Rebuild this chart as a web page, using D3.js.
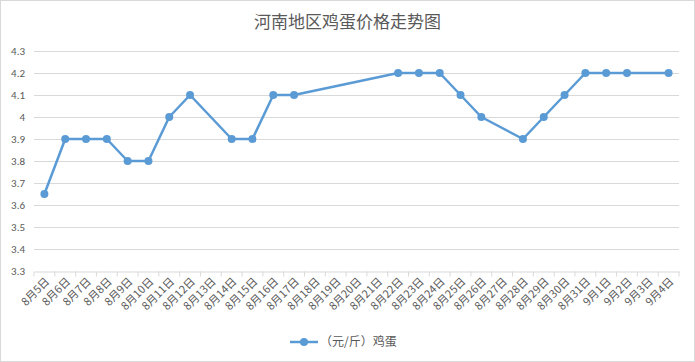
<!DOCTYPE html>
<html>
<head>
<meta charset="utf-8">
<script src="https://cdn.jsdelivr.net/npm/d3@7"></script>
<style>
  body { margin: 0; background: #fff; }
  text { font-family: "Noto Sans CJK SC", "Microsoft YaHei", sans-serif; fill: #595959; }
</style>
</head>
<body>
<script>
// dates on the x axis, one per band
const dates = ['8月5日', '8月6日', '8月7日', '8月8日', '8月9日', '8月10日', '8月11日', '8月12日',
  '8月13日', '8月14日', '8月15日', '8月16日', '8月17日', '8月18日', '8月19日', '8月20日',
  '8月21日', '8月22日', '8月23日', '8月24日', '8月25日', '8月26日', '8月27日', '8月28日',
  '8月29日', '8月30日', '8月31日', '9月1日', '9月2日', '9月3日', '9月4日']
// price per jin, null where there is no reading
const prices = [3.65, 3.9, 3.9, 3.9, 3.8, 3.8, 4.0, 4.1,
  null, 3.9, 3.9, 4.1, 4.1, null, null, null,
  null, 4.2, 4.2, 4.2, 4.1, 4.0, null, 3.9,
  4.0, 4.1, 4.2, 4.2, 4.2, null, 4.2]
const yTicks = [3.3, 3.4, 3.5, 3.6, 3.7, 3.8, 3.9, 4, 4.1, 4.2, 4.3]
const seriesName = '（元/斤）鸡蛋'
const chartTitle = '河南地区鸡蛋价格走势图'

const fullWidth = 695
const fullHeight = 362
const margin = {top: 51, right: 16, bottom: 91, left: 34}
const width = fullWidth - margin.left - margin.right
const height = fullHeight - margin.top - margin.bottom
const color = '#5b9bd5'

const svg = d3.select('body').append('svg')
  .attr('width', fullWidth)
  .attr('height', fullHeight)

// outer frame
svg.append('rect')
  .attr('x', 0.5).attr('y', 0.5)
  .attr('width', fullWidth - 1).attr('height', fullHeight - 1)
  .attr('fill', '#fff').attr('stroke', '#d9d9d9')

svg.append('text')
  .attr('x', fullWidth / 2).attr('y', 28)
  .attr('text-anchor', 'middle')
  .style('font-size', '17px')
  .text(chartTitle)

const g = svg.append('g')
  .attr('transform', 'translate(' + margin.left + ',' + margin.top + ')')

const x = d3.scaleBand().domain(dates).range([0, width])
const y = d3.scaleLinear().domain([3.3, 4.3]).range([height, 0])

// gridlines
g.selectAll('line.grid')
  .data(yTicks.slice(1))
  .enter().append('line')
  .attr('class', 'grid')
  .attr('x1', 0).attr('x2', width)
  .attr('y1', d => Math.round(y(d)) + 0.5).attr('y2', d => Math.round(y(d)) + 0.5)
  .attr('stroke', '#d9d9d9')

// y axis labels
const yAxis = g.append('g')
  .call(d3.axisLeft(y).tickValues(yTicks).tickSize(0).tickPadding(9).tickFormat(d3.format('')))
yAxis.select('.domain').remove()
yAxis.selectAll('text').style('font-size', '11px').style('font-family', 'Calibri, "Liberation Sans", sans-serif')

// x axis
const xAxis = g.append('g')
  .attr('transform', 'translate(0,' + (Math.round(height) + 0.5) + ')')
  .call(d3.axisBottom(x).tickSize(5).tickSizeOuter(0).tickPadding(4))
xAxis.select('.domain').attr('stroke', '#d9d9d9')
xAxis.selectAll('.tick line').attr('stroke', '#d9d9d9')
  .attr('transform', 'translate(' + (-x.bandwidth() / 2) + ',0)')
// closing tick at the right end
xAxis.append('line')
  .attr('x1', width).attr('x2', width).attr('y1', 0).attr('y2', 5)
  .attr('stroke', '#d9d9d9')
xAxis.selectAll('.tick text')
  .style('font-size', '11px')
  .attr('text-anchor', 'end')
  .attr('dy', '0.35em')
  .attr('transform', 'translate(3,8) rotate(-45)')
  .attr('y', 0).attr('x', 0)

// line (gaps are bridged, like the source)
const points = dates.map((d, i) => ({date: d, value: prices[i]})).filter(p => p.value != null)
const line = d3.line()
  .x(d => x(d.date) + x.bandwidth() / 2)
  .y(d => y(d.value))

g.append('path')
  .datum(points)
  .attr('d', line)
  .attr('fill', 'none')
  .attr('stroke', color)
  .attr('stroke-width', 2.5)
  .attr('stroke-linejoin', 'round')

g.selectAll('circle.dot')
  .data(points)
  .enter().append('circle')
  .attr('class', 'dot')
  .attr('cx', d => x(d.date) + x.bandwidth() / 2)
  .attr('cy', d => y(d.value))
  .attr('r', 4)
  .attr('fill', color)

// legend
const legend = svg.append('g').attr('transform', 'translate(290,342)')
legend.append('line')
  .attr('x1', 0).attr('x2', 28).attr('y1', 0).attr('y2', 0)
  .attr('stroke', color).attr('stroke-width', 2.5)
legend.append('circle').attr('cx', 14).attr('cy', 0).attr('r', 4).attr('fill', color)
legend.append('text')
  .attr('x', 30).attr('y', 0).attr('dy', '0.35em')
  .style('font-size', '12px')
  .text(seriesName)
</script>
</body>
</html>
